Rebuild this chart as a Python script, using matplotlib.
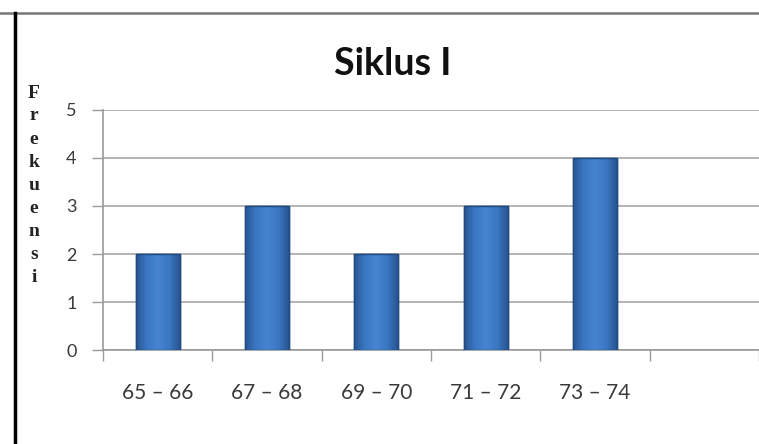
"""Bar chart of score frequency for cycle I."""

import numpy as np
import matplotlib.pyplot as plt
from matplotlib.colors import LinearSegmentedColormap
from matplotlib.lines import Line2D

categories = ["65 – 66", "67 – 68", "69 – 70", "71 – 72", "73 – 74"]
frequencies = [2, 3, 2, 3, 4]
y_ticks = [0, 1, 2, 3, 4, 5]
title = "Siklus I"
y_label = "Frekuensi"

W, H = 759, 444
fig = plt.figure(figsize=(W / 100, H / 100), dpi=100)


def px(x0, y0, x1, y1):
    return [x0 / W, 1 - y1 / H, (x1 - x0) / W, (y1 - y0) / H]


ax = fig.add_axes(px(103, 110, 759, 350))
positions = range(len(categories))
bars = ax.bar(positions, frequencies, width=0.4, color="#3a74c0",
              edgecolor="#1f4a80", linewidth=1.0, zorder=3)

# horizontal shading inside each bar: darker sides, lighter middle
shade = LinearSegmentedColormap.from_list(
    "bar_shade", ["#285592", "#3b78c4", "#4784cf", "#3b78c4", "#285592"])
gradient = np.linspace(0, 1, 256).reshape(1, -1)
for bar in bars:
    x0, y0 = bar.get_x(), bar.get_y()
    img = ax.imshow(gradient, cmap=shade, aspect="auto", zorder=3.5,
                    extent=(x0, x0 + bar.get_width(), y0, y0 + bar.get_height()))
    img.set_clip_path(bar)
    ax.bar(bar.get_x() + bar.get_width() / 2, bar.get_height(), width=bar.get_width(),
           fill=False, edgecolor="#1f4a80", linewidth=1.0, zorder=4)

ax.set_xlim(-0.5, 5.41)
ax.set_ylim(0, 5)
ax.set_yticks(y_ticks)
ax.set_yticklabels([str(v) for v in y_ticks], fontsize=13,
                   family="Lato", color="#3a3a3a")
ax.set_xticks(list(positions))
ax.set_xticklabels(categories, fontsize=15, family="Lato", color="#3a3a3a")
ax.set_xticks([i - 0.5 for i in range(7)], minor=True)
ax.tick_params(axis="x", which="major", length=0, pad=24)
ax.tick_params(axis="x", which="minor", length=8, color="#9a9a9a", width=1)
ax.tick_params(axis="y", length=8, color="#9a9a9a", width=1, pad=11)
ax.grid(axis="y", color="#a8a8a8", linewidth=1.2, zorder=0)
for side in ("top", "right"):
    ax.spines[side].set_visible(False)
for side in ("left", "bottom"):
    ax.spines[side].set_color("#9a9a9a")
    ax.spines[side].set_linewidth(1.2)

fig.text(393 / W, 1 - 64 / H, title, ha="center", va="center",
         fontsize=27, fontweight="bold", family="Lato", color="#111111")

# vertical axis title, one letter per line
for i, letter in enumerate(y_label):
    fig.text(34 / W, 1 - (93 + i * 23) / H, letter, ha="center", va="center",
             fontsize=14, fontweight="bold", family="Liberation Serif",
             color="#222222")

# page frame around the chart
fig.add_artist(Line2D([0, 1], [1 - 13 / H] * 2, color="#777777", linewidth=1.8))
fig.add_artist(Line2D([15 / W] * 2, [0, 1 - 13 / H], color="#000000",
                      linewidth=2.5))

fig.savefig("out.png", dpi=100)
